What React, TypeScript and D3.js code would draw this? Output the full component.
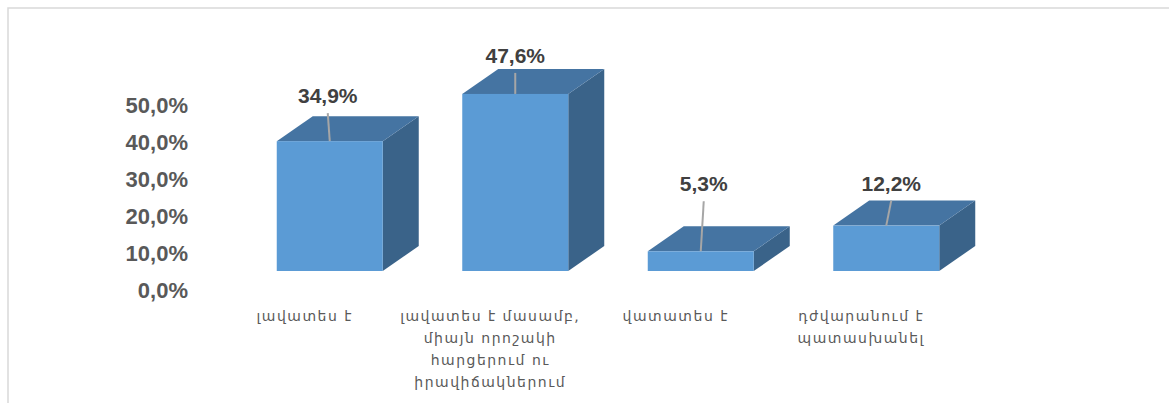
import * as d3 from "d3";
import React from "react";

const categories: string[][] = [
	["լավատես է"],
	["լավատես է մասամբ,", "միայն որոշակի", "հարցերում ու", "իրավիճակներում"],
	["վատատես է"],
	["դժվարանում է", "պատասխանել"],
];
const values = [34.9, 47.6, 5.3, 12.2];
const valueLabels = ["34,9%", "47,6%", "5,3%", "12,2%"];
const yTicks = [0, 10, 20, 30, 40, 50];
const yTickLabels = ["0,0%", "10,0%", "20,0%", "30,0%", "40,0%", "50,0%"];

// hand placed data labels in the original
const labelDx = [-2, 0, 3, 5];
const labelDy = [-3, 4, -25, 0];

const W = 1169;
const H = 403;
const depthX = 36;
const depthY = 25;

const App = () => {
	const x = d3
		.scaleBand<number>()
		.domain(values.map((_, i) => i))
		.range([237, 979])
		.paddingInner(0.4286)
		.paddingOuter(0.2143);
	// front face of the 3D bars
	const y = d3.scaleLinear().domain([0, 50]).range([271, 85]);
	// axis labels sit on the back wall
	const yAxis = d3.scaleLinear().domain([0, 50]).range([290.5, 105.5]);

	const bw = x.bandwidth();

	return (
		<svg
			width={W}
			height={H}
			style={{ position: "absolute", left: 0, top: 0 }}
		>
			<rect
				x={8}
				y={8}
				width={W}
				height={H}
				fill="#fff"
				stroke="#D9D9D9"
				strokeWidth={1.5}
			/>
			<g
				fontFamily="'Liberation Sans', Arial, sans-serif"
				fontWeight="bold"
				fontSize={22}
				fill="#595959"
				textAnchor="end"
			>
				{yTicks.map((t, i) => (
					<text key={t} x={188} y={yAxis(t) + 7.5}>
						{yTickLabels[i]}
					</text>
				))}
			</g>
			{values.map((v, i) => {
				const x0 = x(i)!;
				const x1 = x0 + bw;
				const yt = y(v);
				const yb = y(0);
				const top = `M${x0},${yt}L${x0 + depthX},${yt - depthY}L${x1 + depthX},${yt - depthY}L${x1},${yt}Z`;
				const side = `M${x1},${yt}L${x1 + depthX},${yt - depthY}L${x1 + depthX},${yb - depthY}L${x1},${yb}Z`;
				const cx = x0 + bw / 2;
				const ly = yt - 35 + labelDy[i];
				const lx = cx + labelDx[i];
				return (
					<g key={i}>
						<path d={side} fill="#3A6389" />
						<path d={top} fill="#4574A2" />
						<rect x={x0} y={yt} width={bw} height={yb - yt} fill="#5B9BD5" />
						<line
							x1={lx}
							y1={ly + 10}
							x2={cx}
							y2={yt}
							stroke="#A6A6A6"
							strokeWidth={2}
						/>
						<text
							x={lx}
							y={ly}
							textAnchor="middle"
							fontFamily="'Liberation Sans', Arial, sans-serif"
							fontWeight="bold"
							fontSize={21}
							fill="#404040"
						>
							{valueLabels[i]}
						</text>
					</g>
				);
			})}
			<g
				fontFamily="'DejaVu Sans', sans-serif"
				fontSize={14}
				letterSpacing={1.5}
				fill="#595959"
				textAnchor="middle"
			>
				{categories.map((lines, i) => (
					<text key={i} x={x(i)! + bw / 2 - 25} y={321}>
						{lines.map((l, j) => (
							<tspan key={j} x={x(i)! + bw / 2 - 25} dy={j === 0 ? 0 : 22}>
								{l}
							</tspan>
						))}
					</text>
				))}
			</g>
		</svg>
	);
};

export default App;
